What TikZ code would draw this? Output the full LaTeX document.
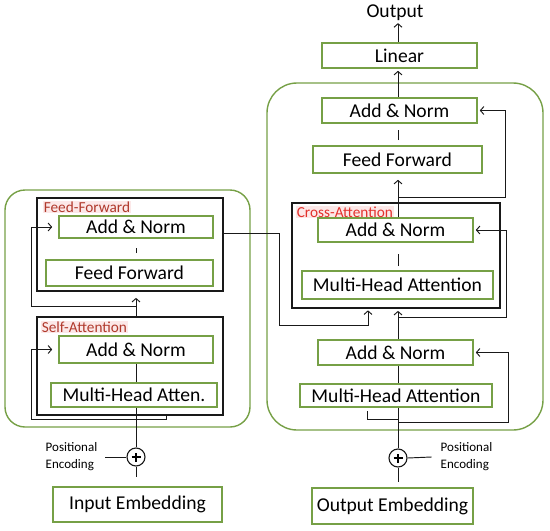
\documentclass[tikz,border=0pt]{standalone}
\usepackage{fontspec}
\setmainfont{Carlito}
\usetikzlibrary{arrows.meta,calc}
\definecolor{boxgreen}{HTML}{76A046}
\definecolor{tagdark}{HTML}{B0392C}
\definecolor{tagbright}{HTML}{E3302B}
\definecolor{taghl}{HTML}{FCE8E8}
\begin{document}
\begin{tikzpicture}[x=1pt,y=-1pt,
  outer/.style={draw=boxgreen, line width=1.4pt, inner sep=0pt},
  gbox/.style={draw=boxgreen, line width=1.6pt, fill=white, inner sep=0pt, font=\fontsize{19.6}{21}\selectfont},
  blk/.style={draw=black!90, line width=1.7pt, inner sep=0pt},
  conn/.style={draw=black!90, line width=0.95pt},
  arr/.style={conn, -{Straight Barb[length=3.5pt,width=8pt]}},
  tag/.style={font=\fontsize{15.3}{17}\selectfont, fill=taghl, inner sep=0.6pt, anchor=west},
  pe/.style={font=\fontsize{13}{17}\selectfont, align=left, inner sep=0pt},
  plus/.style={draw=black!90, circle, line width=1.1pt, minimum size=18pt, inner sep=0pt},
]
\useasboundingbox (0,0) rectangle (550,531);
\coordinate (cl) at (136,0);
\coordinate (cx) at (398,0);

% outer rounded boxes
\node[outer, rounded corners=20pt, minimum width=245pt, minimum height=237pt] (encbox) at (127.5,308.5) {};
\node[outer, rounded corners=30pt, minimum width=276pt, minimum height=347pt] (decbox) at (405,256.5) {};

% black group boxes
\node[blk, minimum width=186pt, minimum height=93pt] (ffblk) at (130,244.5) {};
\node[blk, minimum width=186pt, minimum height=98pt] (saBlk) at (130,366) {};
\node[blk, minimum width=208pt, minimum height=105pt] (caBlk) at (396,255.5) {};

% tags
\node[tag, text=tagdark] (tg1) at (43,207) {Feed-Forward};
\node[tag, text=tagdark] (tg2) at (41,327) {Self-Attention};
\node[tag, text=tagbright] (tg3) at (296,212) {Cross-Attention};

% encoder nodes
\node[gbox, minimum width=154pt, minimum height=22pt] (an1) at (136,227) {Add \& Norm};
\node[gbox, minimum width=167pt, minimum height=26pt] (ff1) at (129.5,273) {Feed Forward};
\node[gbox, minimum width=154pt, minimum height=27pt] (an2) at (136,349.5) {Add \& Norm};
\node[gbox, minimum width=166pt, minimum height=24pt] (mha1) at (134,395) {Multi-Head Atten.};
\node[plus] (p1) at (136,457) {};
\node[gbox, minimum width=169pt, minimum height=35pt] (inemb) at (137.5,504.5) {Input Embedding};
\node[pe] (pe1) at (71.5,457) {Positional\\Encoding};

% decoder nodes
\node[font=\fontsize{19.6}{21}\selectfont, inner sep=0pt] (out) at (395,13) {Output};
\node[gbox, minimum width=155pt, minimum height=25pt] (lin) at (399.5,55.5) {Linear};
\node[gbox, minimum width=155pt, minimum height=25pt] (an3) at (399.5,110.5) {Add \& Norm};
\node[gbox, minimum width=169pt, minimum height=27pt] (ff2) at (397.5,159.5) {Feed Forward};
\node[gbox, minimum width=155pt, minimum height=24pt] (an4) at (395.5,230) {Add \& Norm};
\node[gbox, minimum width=191pt, minimum height=28pt] (mha2) at (397.5,285) {Multi-Head Attention};
\node[gbox, minimum width=155pt, minimum height=25pt] (an5) at (395.5,352.5) {Add \& Norm};
\node[gbox, minimum width=192pt, minimum height=23pt] (mha3) at (396,395.5) {Multi-Head Attention};
\node[plus] (p2) at (398,458) {};
\node[gbox, minimum width=161pt, minimum height=36pt] (outemb) at (392.5,506) {Output Embedding};
\node[pe] (pe2) at (466.5,457) {Positional\\Encoding};

% plus signs
\draw[line width=1.1pt] ([xshift=-4.5pt]p1.center) -- ([xshift=4.5pt]p1.center);
\draw[line width=1.1pt] ([yshift=-4.5pt]p1.center) -- ([yshift=4.5pt]p1.center);
\draw[line width=1.1pt] ([xshift=-4.5pt]p2.center) -- ([xshift=4.5pt]p2.center);
\draw[line width=1.1pt] ([yshift=-4.5pt]p2.center) -- ([yshift=4.5pt]p2.center);

% tap points
\coordinate (t1) at (136,306);
\coordinate (t2) at (136,419);
\coordinate (t3) at (398,197);
\coordinate (t4) at (398,317);
\coordinate (t5) at (398,422);
\coordinate (t6) at (398,419);
\coordinate (e1) at (224,233);

% encoder connectors
\draw[conn] (pe1.east) ++(8,0) -- (p1.west);
\draw[conn, shorten >=9pt] (p1.south) -- (inemb.north -| p1);
\draw[conn] (p1.north) -- (mha1.south -| p1);
\draw[conn] (mha1.north -| cl) -- (an2.south -| cl);
\draw[arr, shorten >=6pt] (t2) -| ([xshift=-27pt]an2.west) -- (an2.west);
\draw[conn] (t2) -| ([xshift=36pt]saBlk.south);
\draw[arr, shorten >=6pt] (saBlk.north -| cl) -- (ffblk.south -| cl);
\draw[arr, shorten >=6pt] (t1) -| ([xshift=-27pt]an1.west) -- (an1.west);
\draw[conn, shorten <=6pt, shorten >=9pt] (ff1.north -| cl) -- (an1.south -| cl);

% encoder to cross-attention
\draw[arr, shorten >=1.5pt] (e1) -| (279,325) -| ([xshift=-28pt]caBlk.south);

% decoder connectors
\draw[conn] (p2.east) -- ([xshift=-9pt]pe2.west);
\draw[conn, shorten >=5pt] (p2.south) -- (outemb.north -| p2);
\draw[conn] (p2.north) -- (mha3.south -| p2);
\draw[conn, shorten >=3pt] (t6) -| ([xshift=-29pt]mha3.south);
\draw[arr, shorten >=2pt] (t5) -| ([xshift=35pt]an5.east) -- (an5.east);
\draw[conn] (mha3.north -| cx) -- (an5.south -| cx);
\draw[arr, shorten >=2pt] (an5.north -| cx) -- (caBlk.south -| cx);
\draw[arr, shorten >=2pt] (t4) -| ([xshift=33pt]an4.east) -- (an4.east);
\draw[conn, shorten <=4pt, shorten >=11pt] (mha2.north -| cx) -- (an4.south -| cx);
\draw[arr, shorten >=6pt] (an4.north -| cx) -- (ff2.south -| cx);
\draw[arr, shorten >=2pt] (t3) -| ([xshift=28pt]an3.east) -- (an3.east);
\draw[conn, shorten <=5pt, shorten >=6pt] (ff2.north -| cx) -- (an3.south -| cx);
\draw[arr, shorten >=2pt] (an3.north -| cx) -- (lin.south -| cx);
\draw[arr, shorten >=2pt] (lin.north -| cx) -- (out.south -| cx);
\end{tikzpicture}
\end{document}
